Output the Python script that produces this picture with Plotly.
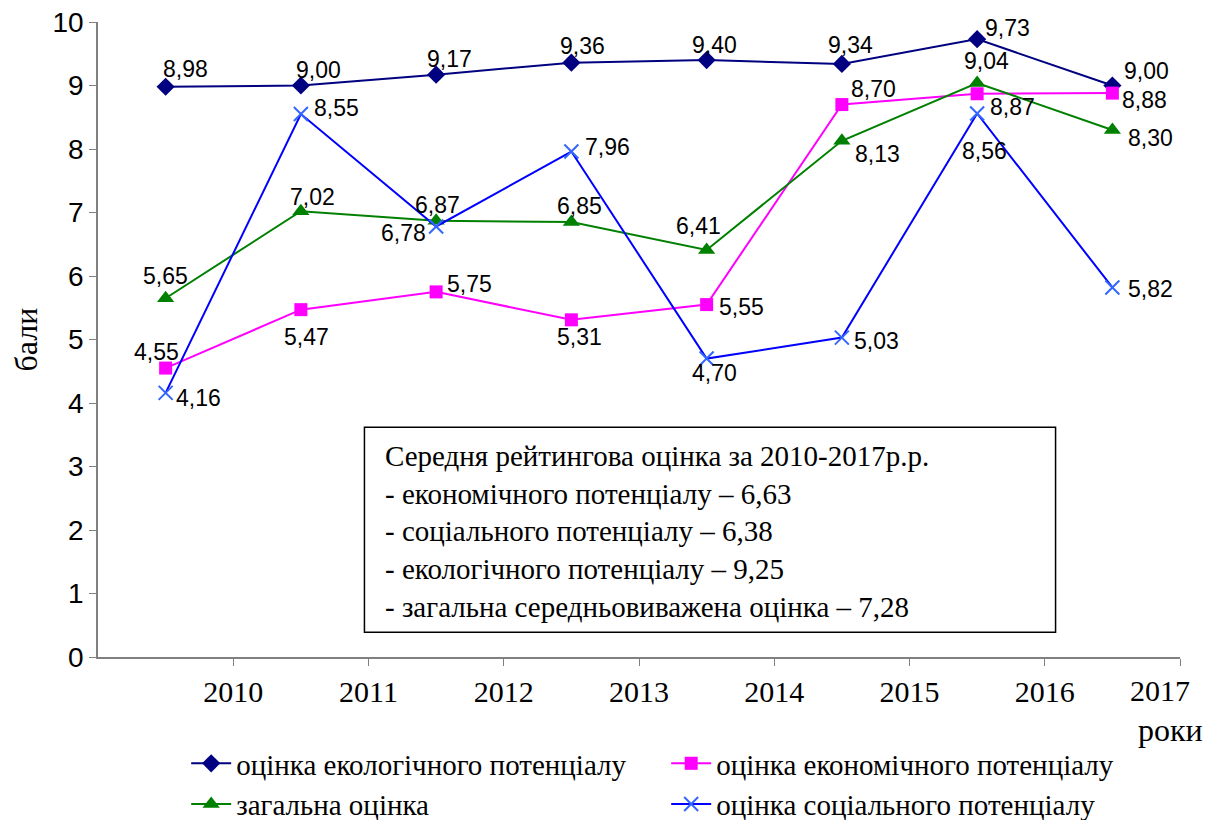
import plotly.graph_objects as go

years = ["2010", "2011", "2012", "2013", "2014", "2015", "2016", "2017"]
ecological = [8.98, 9.00, 9.17, 9.36, 9.40, 9.34, 9.73, 9.00]
economic = [4.55, 5.47, 5.75, 5.31, 5.55, 8.70, 8.87, 8.88]
overall = [5.65, 7.02, 6.87, 6.85, 6.41, 8.13, 9.04, 8.30]
social = [4.16, 8.55, 6.78, 7.96, 4.70, 5.03, 8.56, 5.82]

names = ["оцінка екологічного потенціалу", "оцінка економічного потенціалу",
         "загальна оцінка", "оцінка соціального потенціалу"]

summary_lines = [
    "Середня рейтингова оцінка за 2010-2017р.р.",
    "- економічного потенціалу – 6,63",
    "- соціального потенціалу – 6,38",
    "- екологічного потенціалу – 9,25",
    "- загальна середньовиважена оцінка – 7,28",
]

# label offsets (px) per series per point: (dx, dy) with dy positive = down
off_eco = [(20, -18), (18, -16), (13, -16), (11, -17), (8, -15), (9, -19), (30, -11), (34, -15)]
off_econ = [(-9, -16), (6, 27), (33, -8), (8, 17), (35, 2), (32, -16), (35, 13), (32, 7)]
off_all = [(0, -22), (12, -14), (1, -16), (8, -16), (-8, -24), (36, 13), (9, -22), (38, 8)]
off_soc = [(33, 5), (36, -6), (-33, 7), (36, -5), (8, 14), (35, 3), (7, 38), (38, 2)]

xpos = [i + 0.5 for i in range(len(years))]

fig = go.Figure()
series = [
    (ecological, "#000080", dict(symbol="diamond", size=14, color="#000080"), off_eco),
    (economic, "#FF00FF", dict(symbol="square", size=13, color="#FF00FF"), off_econ),
    (overall, "#008000", dict(symbol="triangle-up", size=15, color="#008000"), off_all),
    (social, "#0000FF", dict(symbol="x-thin-open", size=14, color="#3366FF",
                             line=dict(width=2, color="#3366FF")), off_soc),
]
for (vals, col, mk, offs), nm in zip(series, names):
    fig.add_trace(go.Scatter(x=xpos, y=vals, mode="lines+markers", name=nm,
                             line=dict(color=col, width=2), marker=mk))

annotations = []
for (vals, col, mk, offs) in series:
    for x, v, (dx, dy) in zip(xpos, vals, offs):
        annotations.append(dict(x=x, y=v, xref="x", yref="y", text=f"{v:.2f}".replace(".", ","),
                                showarrow=False, xshift=dx, yshift=-dy,
                                font=dict(family="Liberation Sans, Arial", size=23, color="black")))

annotations.append(dict(x=2.11, y=1.97, xref="x", yref="y", xanchor="left", yanchor="middle",
                        align="left", showarrow=False, text="<br>".join(summary_lines),
                        font=dict(family="Liberation Serif, Times New Roman", size=29, color="black")))
annotations.append(dict(x=1.0, y=-0.115, xref="paper", yref="paper", xanchor="right", yanchor="middle",
                        showarrow=False, text="роки", xshift=25,
                        font=dict(family="Liberation Serif, Times New Roman", size=32, color="black")))
# last category label sits just inside the right edge, as in the reference
annotations.append(dict(x=7.85, y=-0.052, xref="x", yref="paper", xanchor="center", yanchor="middle",
                        showarrow=False, text=years[-1],
                        font=dict(family="Liberation Serif, Times New Roman", size=30, color="black")))

fig.add_shape(type="rect", x0=1.97, x1=7.08, y0=0.39, y1=3.62, xref="x", yref="y",
              line=dict(color="black", width=1.5), fillcolor="white", layer="below")

fig.update_layout(
    width=1210, height=812,
    margin=dict(l=90, r=38, t=14, b=163, autoexpand=False),
    paper_bgcolor="white", plot_bgcolor="white",
    showlegend=True,
    legend=dict(orientation="h", x=0.0815, y=-0.1275, xanchor="left", yanchor="top",
                entrywidth=425, entrywidthmode="pixels", itemwidth=40,
                font=dict(family="Liberation Serif, Times New Roman", size=29, color="black"),
                tracegroupgap=0),
    annotations=annotations,
    xaxis=dict(range=[0, 8], tickvals=list(range(1, 9)), ticktext=years[:-1] + [""],
               showgrid=False, zeroline=False, showline=True, linecolor="#808080", linewidth=1.5,
               ticks="outside", ticklen=7, tickcolor="#808080", ticklabeloverflow="allow",
               tickfont=dict(family="Liberation Serif, Times New Roman", size=30, color="black")),
    yaxis=dict(range=[0, 10], dtick=1, showgrid=False, zeroline=False, showline=True,
               linecolor="#808080", linewidth=1.5, ticks="outside", ticklen=7, tickcolor="#808080",
               ticklabeloverflow="allow",
               tickfont=dict(family="Liberation Sans, Arial", size=28, color="black"),
               title=dict(text="бали", standoff=16,
                          font=dict(family="Liberation Serif, Times New Roman", size=32, color="black"))),
)

fig.write_html("out.html")
